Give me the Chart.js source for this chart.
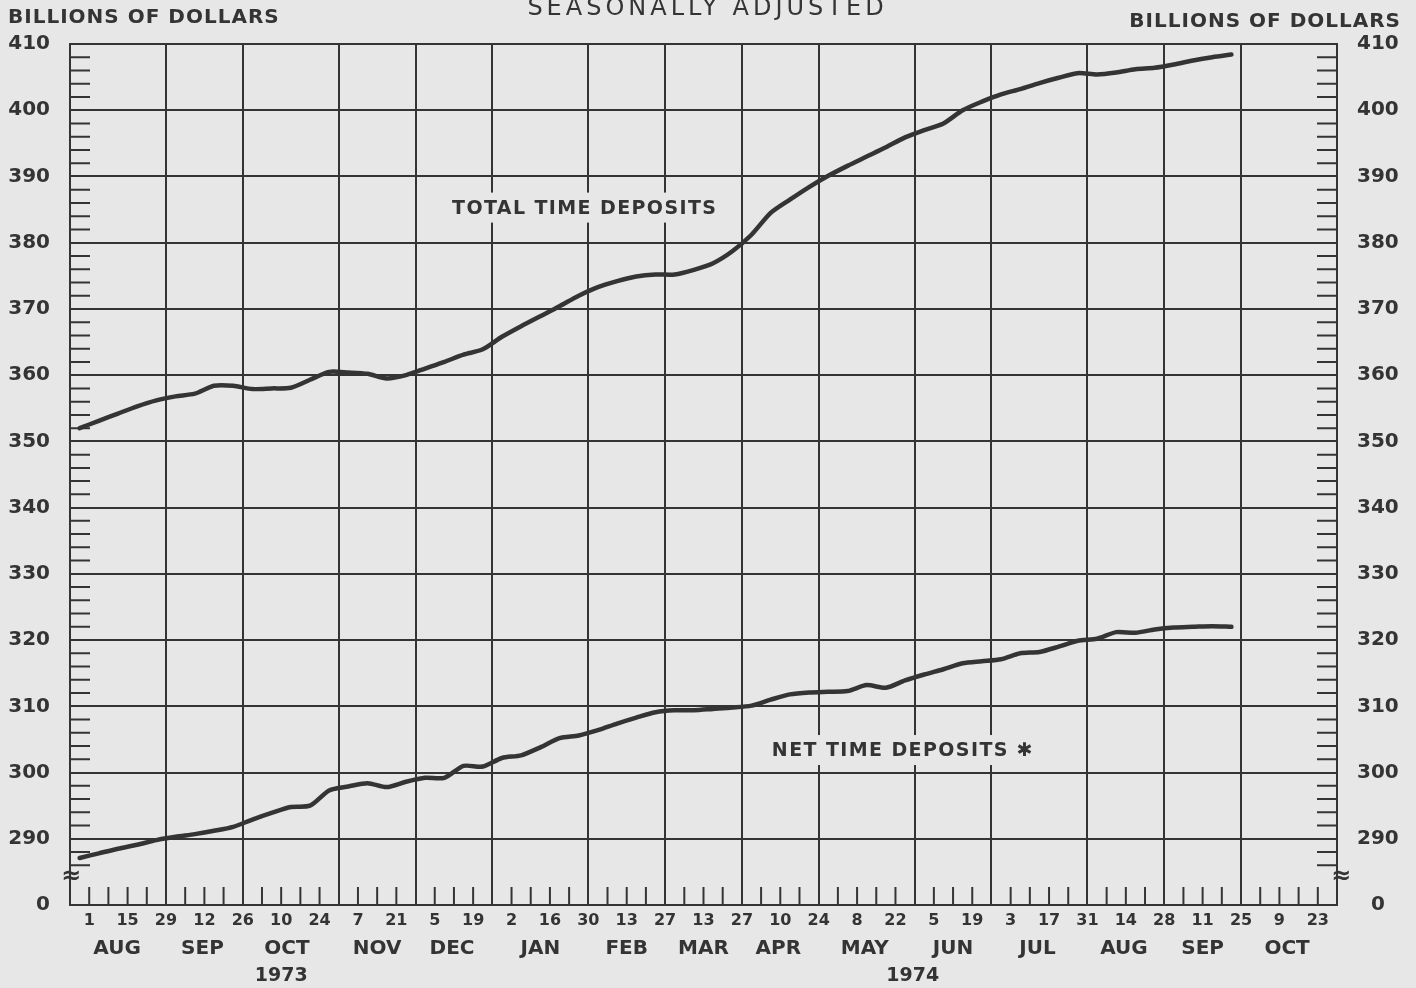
<!DOCTYPE html>
<html><head><meta charset="utf-8">
<script src="https://cdn.jsdelivr.net/npm/chart.js@4.4.1/dist/chart.umd.min.js"></script>
<style>html,body{margin:0;padding:0;background:#e7e7e7;overflow:hidden}canvas{display:block}</style>
</head><body><canvas id="c" width="1416" height="988"></canvas>
<script>
// ---- DATA (billions of dollars, weekly, seasonally adjusted) ----
const totalTimeDeposits = [
  352.0,353.1,354.2,355.3,356.2,356.8,357.2,358.4,358.4,357.9,
  358.0,358.1,359.3,360.5,360.4,360.2,359.5,360.0,361.0,362.0,
  363.1,363.9,365.8,367.4,368.9,370.4,372.0,373.3,374.2,374.9,
  375.2,375.2,375.9,376.9,378.7,381.2,384.5,386.5,388.4,390.1,
  391.6,393.0,394.4,395.9,397.0,398.0,400.0,401.3,402.4,403.2,
  404.1,404.9,405.6,405.4,405.7,406.2,406.4,406.9,407.5,408.0,408.4
];
const netTimeDeposits = [
  287.1,287.8,288.5,289.1,289.8,290.3,290.7,291.2,291.8,292.9,
  293.9,294.8,295.0,297.3,297.9,298.4,297.8,298.6,299.2,299.2,
  301.0,300.9,302.2,302.6,303.8,305.2,305.6,306.4,307.4,308.3,
  309.1,309.4,309.4,309.6,309.8,310.1,311.0,311.8,312.1,312.2,
  312.3,313.2,312.8,313.9,314.8,315.6,316.5,316.8,317.1,318.0,
  318.2,319.0,319.9,320.2,321.2,321.1,321.6,321.9,322.0,322.1,322.0
];
// x axis in weeks counted from Wed Jul 25 1973 (0) to Wed Oct 30 1974 (66)
const weekMin = 0, weekMax = 66;
const weekPositions = totalTimeDeposits.map((_, i) => i + 0.5);
const monthBoundaries = [0,5,9,14,18,22,27,31,35,39,44,48,53,57,61,66];
const weekTickPositions = Array.from({length: 65}, (_, i) => i + 1);
const dayTickPositions = weekTickPositions.filter(v => v % 2 === 1);
const dayTickLabels = ['1','15','29','12','26','10','24','7','21','5','19','2','16','30','13','27',
  '13','27','10','24','8','22','5','19','3','17','31','14','28','11','25','9','23'];
const monthLabels = ['AUG','SEP','OCT','NOV','DEC','JAN','FEB','MAR','APR','MAY','JUN','JUL','AUG','SEP','OCT'];
const monthLabelPositions = [2.45,6.9,11.3,16,19.9,24.5,29,33,36.9,41.4,46,50.4,54.9,59,63.4];
const yearLabels = ['1973','1974'];
const yearLabelPositions = [11.0, 43.9];
const yTickValues = [280,290,300,310,320,330,340,350,360,370,380,390,400,410];
const yMinorTicks = [286,288,292,294,296,298].concat(
  Array.from({length: 11}, (_, k) => 300 + 10*k).flatMap(b => [b+2,b+4,b+6,b+8]));
const seriesTitles = ['TOTAL TIME DEPOSITS', 'NET TIME DEPOSITS \u2731'];
const seriesTitleAt = [[19.9, 385.3], [36.56, 303.4]];
const breakValue = 284.3;

// ---- STYLE ----
const ink = '#343434';
const bg = '#e7e7e7';
const fam = '"DejaVu Sans", "Liberation Sans", sans-serif';

const setTicks = vals => s => { s.ticks = vals.map(v => ({value: v})); };
const fixH = h => s => { s.height = h; };
const fixW = w => s => { s.width = w; };

const decor = {
  id: 'decor',
  beforeDraw(chart) {
    const c = chart.ctx;
    c.save(); c.fillStyle = bg; c.fillRect(0, 0, chart.width, chart.height); c.restore();
  },
  beforeDatasetsDraw(chart) {
    const {ctx, scales: {x, y}} = chart;
    ctx.save();
    ctx.strokeStyle = ink; ctx.lineWidth = 2;
    weekTickPositions.forEach(v => {
      if (monthBoundaries.includes(v)) return;
      const px = x.getPixelForValue(v);
      ctx.beginPath(); ctx.moveTo(px, y.bottom); ctx.lineTo(px, y.bottom - 18); ctx.stroke();
    });
    yMinorTicks.forEach(v => {
      const py = y.getPixelForValue(v);
      ctx.beginPath();
      ctx.moveTo(x.left, py); ctx.lineTo(x.left + 20, py);
      ctx.moveTo(x.right - 20, py); ctx.lineTo(x.right, py);
      ctx.stroke();
    });
    ctx.restore();
  },
  afterDatasetsDraw(chart) {
    const {ctx, scales: {x, y}} = chart;
    ctx.save();
    ctx.font = 'bold 19px ' + fam;
    ctx.letterSpacing = '1.4px';
    ctx.textBaseline = 'middle'; ctx.textAlign = 'left';
    seriesTitles.forEach((t, i) => {
      const px = x.getPixelForValue(seriesTitleAt[i][0]);
      const py = y.getPixelForValue(seriesTitleAt[i][1]);
      const w = ctx.measureText(t).width;
      ctx.fillStyle = bg;
      ctx.fillRect(px - 8, py - 15, w + 16, 30);
      ctx.fillStyle = ink;
      ctx.fillText(t, px, py + 1);
    });
    ctx.letterSpacing = '0px';
    ctx.font = 'bold 24px ' + fam;
    ctx.textAlign = 'center';
    [x.left + 1, x.right + 4].forEach(px => {
      const py = y.getPixelForValue(breakValue);
      ctx.fillStyle = ink;
      ctx.fillText('\u2248', px, py);
    });
    ctx.restore();
  },
  afterDraw(chart) {
    const {ctx, scales: {x}} = chart;
    ctx.save();
    ctx.fillStyle = ink; ctx.textBaseline = 'middle';
    ctx.font = 'bold 20px ' + fam; ctx.letterSpacing = '1px';
    ctx.textAlign = 'left'; ctx.fillText('BILLIONS OF DOLLARS', 8, 18);
    ctx.textAlign = 'right'; ctx.fillText('BILLIONS OF DOLLARS', 1401, 22);
    ctx.font = '24px ' + fam; ctx.letterSpacing = '4px';
    ctx.textAlign = 'center'; ctx.fillText('SEASONALLY ADJUSTED', (x.left + x.right) / 2 + 4, 9);
    ctx.restore();
  }
};

const mkData = arr => weekPositions.map((wx, i) => ({x: wx, y: arr[i]}));
const lineStyle = {borderColor: ink, borderWidth: 4.5, pointRadius: 0, tension: 0.25, fill: false,
  xAxisID: 'x', yAxisID: 'y', borderCapStyle: 'round', borderJoinStyle: 'round'};

new Chart(document.getElementById('c'), {
  type: 'line',
  data: {datasets: [
    Object.assign({label: 'Total time deposits', data: mkData(totalTimeDeposits)}, lineStyle),
    Object.assign({label: 'Net time deposits', data: mkData(netTimeDeposits)}, lineStyle)
  ]},
  options: {
    responsive: false, animation: false, events: [],
    layout: {padding: {top: 44, left: 0, right: 0, bottom: 0}},
    plugins: {legend: {display: false}, tooltip: {enabled: false}, title: {display: false}},
    scales: {
      x: {type: 'linear', position: 'bottom', min: weekMin, max: weekMax, weight: 0,
        afterBuildTicks: setTicks(monthBoundaries), afterFit: fixH(0),
        ticks: {display: false}, grid: {color: ink, lineWidth: 2, drawTicks: false},
        border: {color: ink, width: 2}},
      xDay: {type: 'linear', position: 'bottom', min: weekMin, max: weekMax, weight: 1,
        afterBuildTicks: setTicks(dayTickPositions), afterFit: fixH(28),
        ticks: {autoSkip: false, maxRotation: 0, padding: 6, color: ink,
          font: {family: fam, size: 16, weight: 'bold'}, callback: (v, i) => dayTickLabels[i]},
        grid: {display: false, drawTicks: false}, border: {display: false}},
      xMon: {type: 'linear', position: 'bottom', min: weekMin, max: weekMax, weight: 2,
        afterBuildTicks: setTicks(monthLabelPositions), afterFit: fixH(28),
        ticks: {autoSkip: false, maxRotation: 0, padding: 4, color: ink,
          font: {family: fam, size: 20, weight: 'bold'}, callback: (v, i) => monthLabels[i]},
        grid: {display: false, drawTicks: false}, border: {display: false}},
      xYear: {type: 'linear', position: 'bottom', min: weekMin, max: weekMax, weight: 3,
        afterBuildTicks: setTicks(yearLabelPositions), afterFit: fixH(27),
        ticks: {autoSkip: false, maxRotation: 0, padding: 4, color: ink,
          font: {family: fam, size: 19, weight: 'bold'}, callback: (v, i) => yearLabels[i]},
        grid: {display: false, drawTicks: false}, border: {display: false}},
      y: {type: 'linear', position: 'left', min: 280, max: 410,
        afterBuildTicks: setTicks(yTickValues), afterFit: fixW(70),
        ticks: {padding: 20, color: ink, font: {family: fam, size: 20, weight: 'bold'},
          callback: v => v === 280 ? '0' : String(v)},
        grid: {color: ink, lineWidth: 2, drawTicks: false}, border: {color: ink, width: 2}},
      y2: {type: 'linear', position: 'right', min: 280, max: 410,
        afterBuildTicks: setTicks(yTickValues), afterFit: fixW(79),
        ticks: {padding: 20, color: ink, crossAlign: 'center', font: {family: fam, size: 20, weight: 'bold'},
          callback: v => v === 280 ? '0' : String(v)},
        grid: {display: false, drawTicks: false}, border: {color: ink, width: 2}}
    }
  },
  plugins: [decor]
});
</script>
</body></html>
